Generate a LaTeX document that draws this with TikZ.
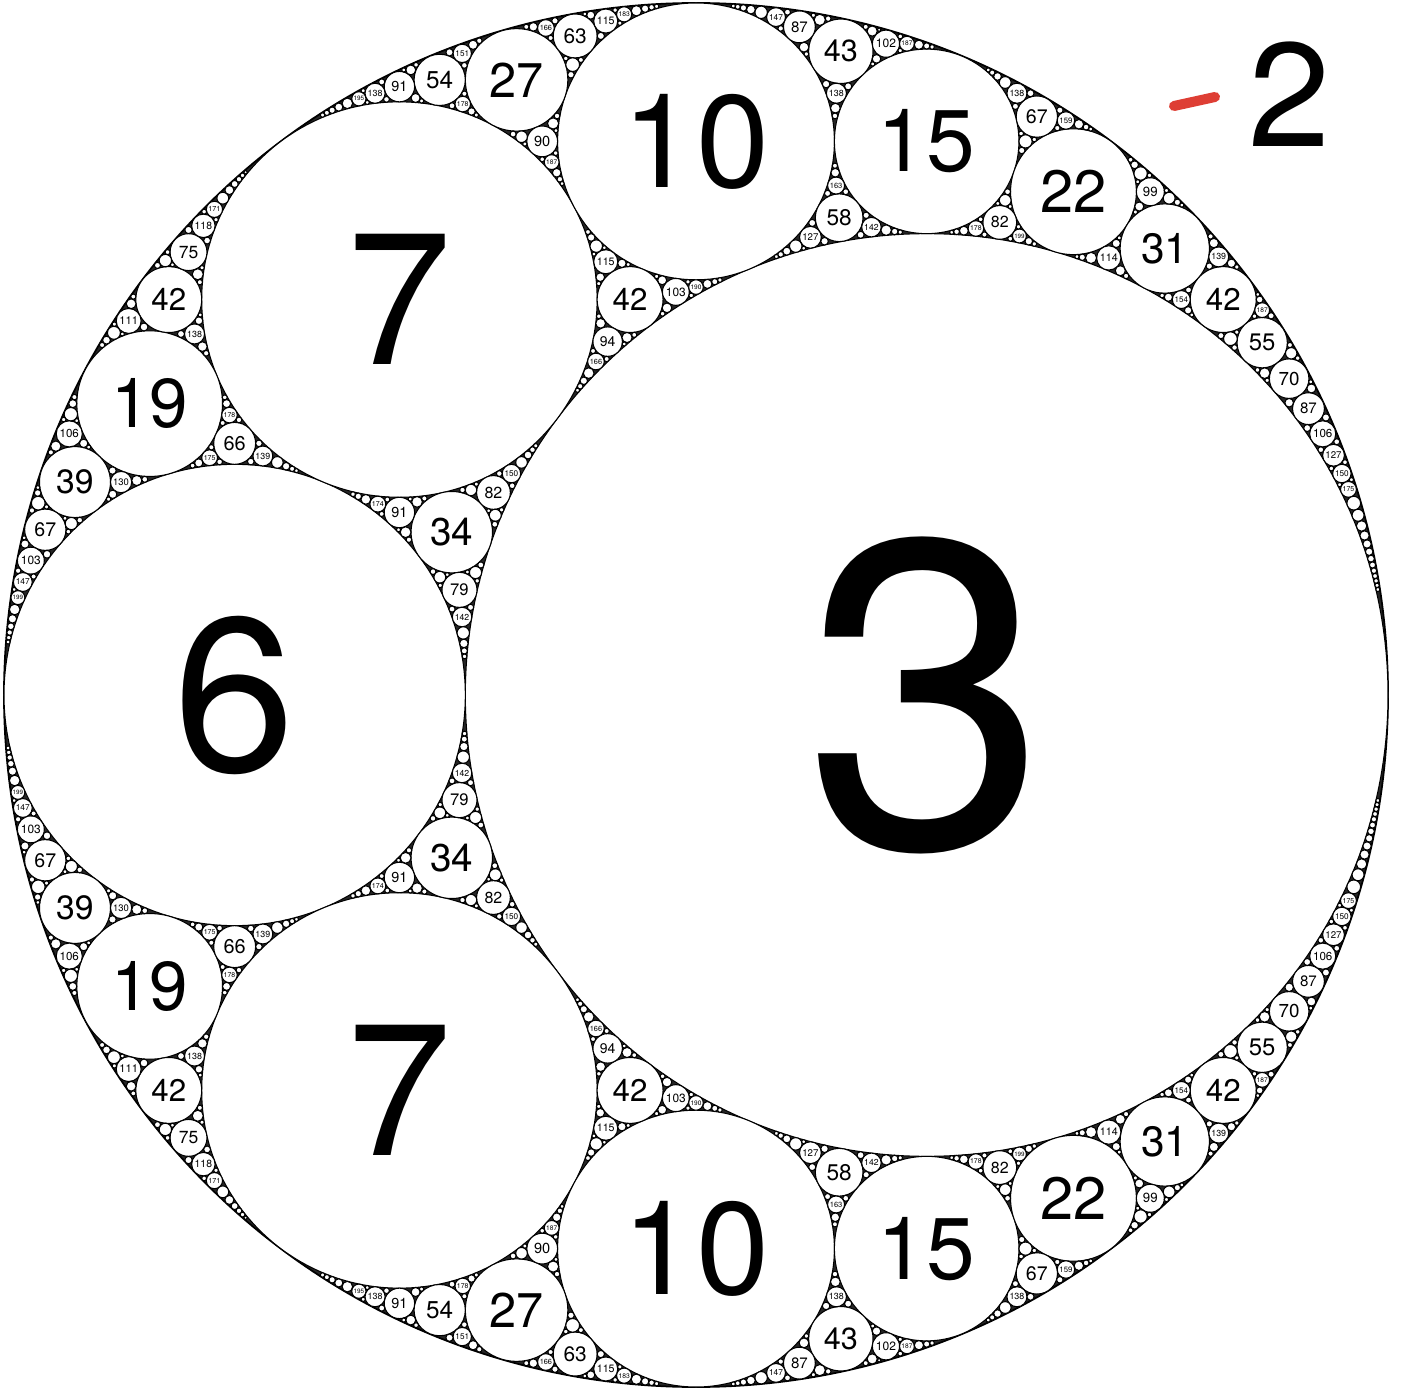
\documentclass[tikz,border=0pt]{standalone}
\usepackage{fontspec}
\setmainfont{TeX Gyre Heros}
\definecolor{markred}{RGB}{222,62,52}

% circle data {k}{2kx}{2ky}
\def\CK#1#2#3{#1}
\def\CX#1#2#3{#2}
\def\CY#1#2#3{#3}
\def\kmax{700}
\def\klabel{200}

\tikzset{
  disc/.style={fill=white, draw=black, line width=0.3pt},
  gap/.style={fill=black!85, draw=black, line width=0.5pt},
  numlabel/.style={inner sep=0pt, text=black}
}

\def\drawcirc#1#2#3{%
  \pgfmathsetmacro\cxx{#2*6.92/#1}%
  \pgfmathsetmacro\cyy{#3*6.92/#1}%
  \pgfmathsetmacro\crr{13.84/#1}%
  \draw[disc] (\cxx,\cyy) circle[radius=\crr];
  \ifnum#1>\klabel\relax\else
    \pgfmathsetmacro\fs{(#1<100 ? 374 : 350)/#1}%
    \node[numlabel, font=\fontsize{\fs pt}{\fs pt}\selectfont] (n#1x#2y#3) at (\cxx,\cyy) {#1};
  \fi}

\def\gen#1#2#3#4{% #4 is the newest circle
  \drawcirc#4%
  \child{#1}{#2}{#3}{#4}%
  \child{#2}{#1}{#3}{#4}%
  \child{#3}{#1}{#2}{#4}}

\def\child#1#2#3#4{%
  \edef\nk{\the\numexpr 2*(\CK#2+\CK#3+\CK#4)-\CK#1\relax}%
  \ifnum\nk>\kmax\relax \let\apnext\relax \else
    \edef\apnext{\noexpand\gen{#2}{#3}{#4}{{\nk}%
      {\the\numexpr 2*(\CX#2+\CX#3+\CX#4)-\CX#1\relax}%
      {\the\numexpr 2*(\CY#2+\CY#3+\CY#4)-\CY#1\relax}}}%
  \fi
  \apnext}

\begin{document}
\begin{tikzpicture}
  \fill[white] (-6.96,-6.94) rectangle (7.05,6.95);
  \useasboundingbox (-6.96,-6.94) rectangle (7.05,6.95);

  % outer circle, curvature -2
  \draw[gap] (0,0) circle[radius=6.92];
  \drawcirc{3}{1}{0}
  \drawcirc{6}{-4}{0}
  \gen{{-2}{0}{0}}{{3}{1}{0}}{{6}{-4}{0}}{{7}{-3}{4}}
  \gen{{-2}{0}{0}}{{3}{1}{0}}{{6}{-4}{0}}{{7}{-3}{-4}}

  % curvature of the outer circle
  \node[font=\fontsize{42pt}{42pt}\selectfont, inner sep=0pt] (outer) at (5.94,6.01) {2};
  \draw[markred, line width=0.1cm, line cap=round] (4.78,5.89) -- (5.19,5.98);
\end{tikzpicture}
\end{document}
